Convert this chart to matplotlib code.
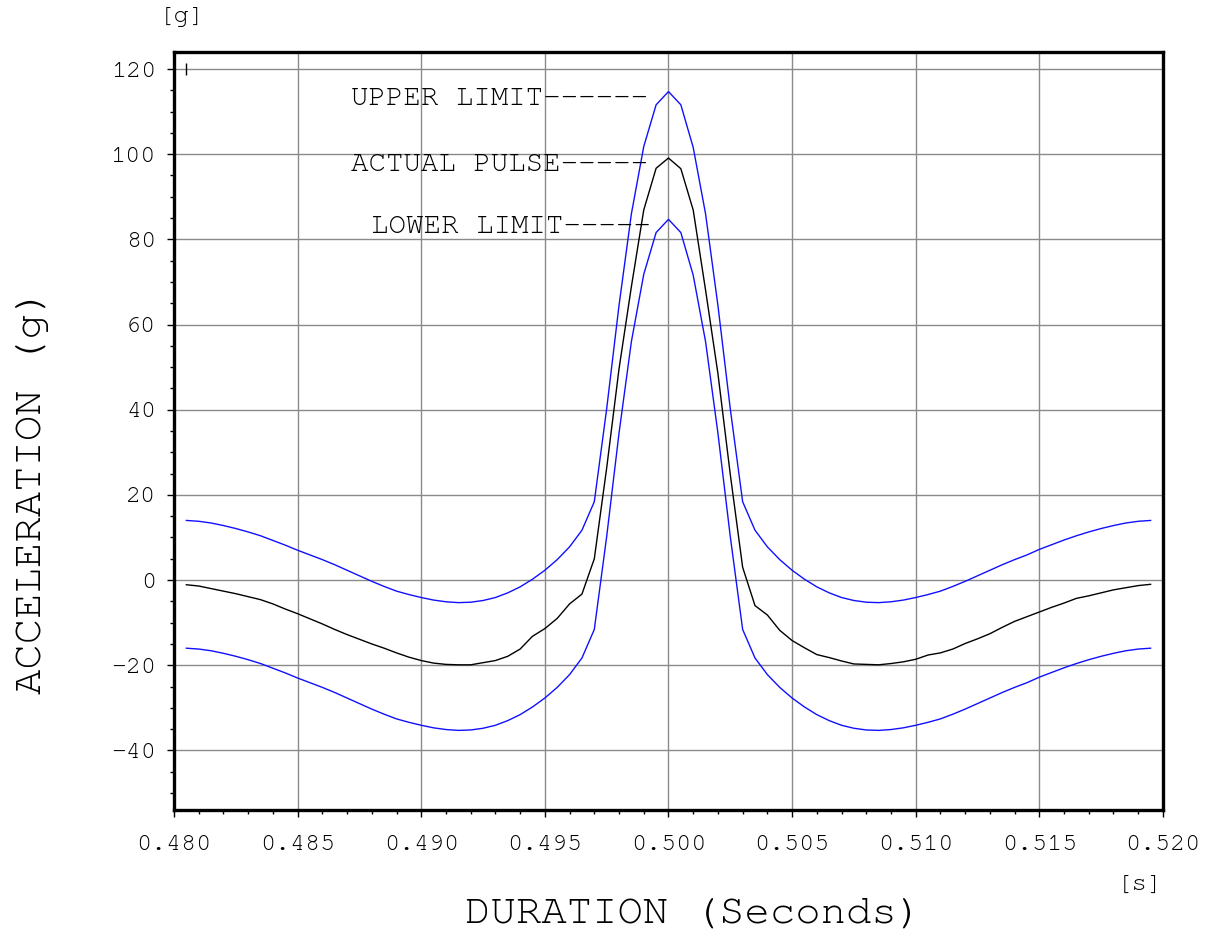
"""
Shock pulse plot: actual pulse with upper and lower tolerance limits
"""

import matplotlib
matplotlib.use("Agg")
from matplotlib import pyplot as plt
from matplotlib.ticker import MultipleLocator, FormatStrFormatter

plt.rcParams['font.family'] = ['Nimbus Mono PS', 'FreeMono', 'Courier Prime',
                               'Cutive Mono', 'Liberation Mono', 'DejaVu Sans Mono']
plt.rcParams['axes.unicode_minus'] = False

# sample times (s)
time_s = [
    0.4805, 0.4810, 0.4815, 0.4820, 0.4825, 0.4830, 0.4835, 0.4840, 0.4845, 0.4850,
    0.4855, 0.4860, 0.4865, 0.4870, 0.4875, 0.4880, 0.4885, 0.4890, 0.4895, 0.4900,
    0.4905, 0.4910, 0.4915, 0.4920, 0.4925, 0.4930, 0.4935, 0.4940, 0.4945, 0.4950,
    0.4955, 0.4960, 0.4965, 0.4970, 0.4975, 0.4980, 0.4985, 0.4990, 0.4995, 0.5000,
    0.5005, 0.5010, 0.5015, 0.5020, 0.5025, 0.5030, 0.5035, 0.5040, 0.5045, 0.5050,
    0.5055, 0.5060, 0.5065, 0.5070, 0.5075, 0.5080, 0.5085, 0.5090, 0.5095, 0.5100,
    0.5105, 0.5110, 0.5115, 0.5120, 0.5125, 0.5130, 0.5135, 0.5140, 0.5145, 0.5150,
    0.5155, 0.5160, 0.5165, 0.5170, 0.5175, 0.5180, 0.5185, 0.5190, 0.5195,
]

upper_limit = [
    14.0, 13.8, 13.4, 12.8, 12.1, 11.3, 10.4, 9.3, 8.2, 7.0,
    5.9, 4.8, 3.6, 2.3, 1.0, -0.3, -1.5, -2.6, -3.4, -4.1,
    -4.7, -5.1, -5.3, -5.2, -4.8, -4.1, -3.0, -1.6, 0.2, 2.3,
    4.8, 7.8, 11.7, 18.4, 40.2, 64.5, 86.0, 101.8, 111.6, 114.7,
    111.6, 101.6, 86.0, 64.5, 40.2, 18.4, 11.7, 7.8, 4.8, 2.3,
    0.2, -1.6, -3.0, -4.1, -4.8, -5.2, -5.3, -5.1, -4.7, -4.1,
    -3.4, -2.6, -1.5, -0.3, 1.0, 2.3, 3.6, 4.8, 5.9, 7.2,
    8.3, 9.4, 10.4, 11.3, 12.1, 12.8, 13.4, 13.8, 14.0,
]

actual_pulse = [
    -1.1, -1.4, -2.0, -2.6, -3.2, -3.9, -4.6, -5.6, -6.8, -7.9,
    -9.1, -10.3, -11.6, -12.8, -13.9, -15.0, -16.0, -17.1, -18.1, -18.9,
    -19.5, -19.8, -19.9, -19.9, -19.4, -18.9, -17.9, -16.2, -13.2, -11.4,
    -9.0, -5.6, -3.3, 5.0, 26.3, 49.6, 68.9, 86.9, 96.7, 99.1,
    96.6, 86.9, 68.1, 48.5, 24.8, 3.0, -6.0, -8.2, -11.8, -14.2,
    -15.9, -17.5, -18.2, -19.0, -19.7, -19.8, -19.9, -19.6, -19.2, -18.6,
    -17.6, -17.1, -16.2, -14.9, -13.8, -12.6, -11.1, -9.7, -8.6, -7.5,
    -6.4, -5.4, -4.3, -3.7, -3.0, -2.3, -1.8, -1.3, -1.0,
]

lower_limit = [
    -16.0, -16.2, -16.6, -17.2, -17.9, -18.7, -19.6, -20.7, -21.8, -23.0,
    -24.1, -25.2, -26.4, -27.7, -29.0, -30.3, -31.5, -32.6, -33.4, -34.1,
    -34.7, -35.1, -35.3, -35.2, -34.8, -34.1, -33.0, -31.6, -29.8, -27.7,
    -25.2, -22.2, -18.3, -11.6, 10.2, 34.5, 56.0, 71.8, 81.6, 84.7,
    81.6, 71.6, 56.0, 34.5, 10.2, -11.6, -18.3, -22.2, -25.2, -27.7,
    -29.8, -31.6, -33.0, -34.1, -34.8, -35.2, -35.3, -35.1, -34.7, -34.1,
    -33.4, -32.6, -31.5, -30.3, -29.0, -27.7, -26.4, -25.2, -24.1, -22.8,
    -21.7, -20.6, -19.6, -18.7, -17.9, -17.2, -16.6, -16.2, -16.0,
]

x_range = (0.480, 0.520)
y_range = (-54, 124)

fig = plt.figure(figsize=(12.05, 9.3), dpi=100)
ax = fig.add_axes([0.1444, 0.1290, 0.8207, 0.8151])

ax.plot(time_s, upper_limit, color='#1010ff', linewidth=1.0, zorder=3)
ax.plot(time_s, lower_limit, color='#1010ff', linewidth=1.0, zorder=3)
ax.plot(time_s, actual_pulse, color='black', linewidth=1.0, zorder=4)
ax.plot([time_s[0]], [120], marker='|', color='black', markersize=9,
        markeredgewidth=1.0, zorder=4)

ax.set_xlim(*x_range)
ax.set_ylim(*y_range)

ax.xaxis.set_major_locator(MultipleLocator(0.005))
ax.xaxis.set_minor_locator(MultipleLocator(0.001))
ax.xaxis.set_major_formatter(FormatStrFormatter('%.3f'))
ax.yaxis.set_major_locator(MultipleLocator(20))
ax.yaxis.set_minor_locator(MultipleLocator(5))

ax.grid(True, which='major', color='#8a8a8a', linewidth=1.0)
ax.set_axisbelow(True)

for side in ['left', 'right', 'top', 'bottom']:
    ax.spines[side].set_linewidth(2.4)

ax.tick_params(axis='both', which='major', direction='out', length=5,
               width=1.0, labelsize=18)
ax.tick_params(axis='both', which='minor', direction='out', length=3,
               width=1.0)
ax.tick_params(axis='x', which='major', pad=13)
ax.tick_params(axis='y', which='major', pad=8)

# legend-like labels
ax.text(0.48715, 111.6, "UPPER LIMIT------", fontsize=21, va='baseline', ha='left')
ax.text(0.48715, 96.1, "ACTUAL PULSE-----", fontsize=21, va='baseline', ha='left')
ax.text(0.48796, 81.6, "LOWER LIMIT-----", fontsize=21, va='baseline', ha='left')

# unit labels and axis titles
fig.text(182 / 1205, 1 - 17 / 930, "[g]", fontsize=18.5, ha='center', va='center')
fig.text(1140 / 1205, 1 - 885 / 930, "[s]", fontsize=18.5, ha='center', va='center')
fig.text(694 / 1205, 1 - 922 / 930, "DURATION (Seconds)", fontsize=30.5,
         ha='center', va='baseline')
fig.text(33 / 1205, 1 - 491 / 930, "ACCELERATION (g)", fontsize=30.5,
         rotation=90, ha='center', va='center')

fig.savefig("out.png", dpi=100)
